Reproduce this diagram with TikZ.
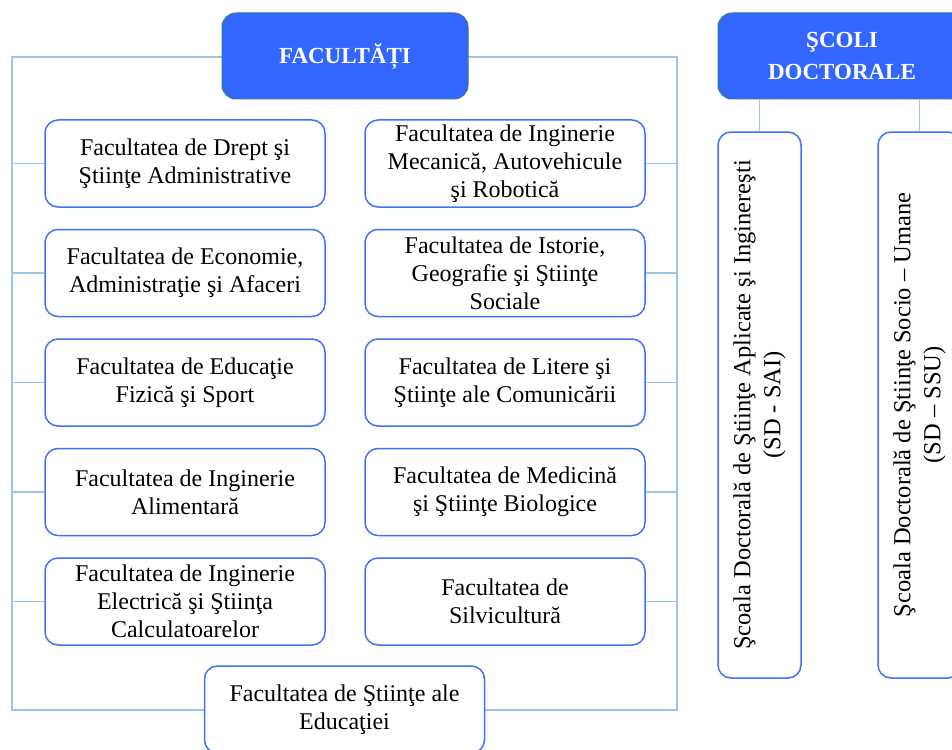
\documentclass[tikz,border=0pt]{standalone}
\usepackage{fontspec}
\setmainfont{Liberation Serif}
\usetikzlibrary{positioning}

\definecolor{headblue}{RGB}{51,102,255}
\definecolor{headedge}{RGB}{65,113,156}
\definecolor{boxedge}{RGB}{64,114,245}
\definecolor{linkblue}{RGB}{157,195,230}

\begin{document}
\begin{tikzpicture}[x=1pt,y=1pt,thin]
\tikzstyle{fac}=[draw=boxedge,line width=1.5pt,fill=white,rounded corners=13pt,minimum width=280pt,minimum height=87pt,inner sep=1pt,align=center,font=\fontsize{24}{28}\selectfont]
\tikzstyle{head}=[draw=headedge,line width=1pt,fill=headblue,rounded corners=14pt,minimum height=86pt,text=white,align=center,font=\fontsize{23}{32}\selectfont\bfseries]
\tikzstyle{link}=[draw=linkblue,line width=1.2pt]

\useasboundingbox (0,0) rectangle (952,-749);

\node[link,minimum width=665pt,minimum height=653pt,inner sep=0pt] (frame) at (344.5,-383.5) {};

\node[head,minimum width=246pt] (fac) at (345,-56) {FACULTĂȚI};
\node[head,minimum width=248pt] (scoli) at (842,-56) {ŞCOLI\\DOCTORALE};

\node[fac] (fdsa) at (185,-163.5) {Facultatea de Drept şi\\Ştiinţe Administrative};
\node[fac] (feaa) [below of=fdsa,node distance=109.5pt] {Facultatea de Economie,\\Administraţie şi Afaceri};
\node[fac] (fefs) [below of=feaa,node distance=109.5pt] {Facultatea de Educaţie\\Fizică şi Sport};
\node[fac] (fia)  [below of=fefs,node distance=109.5pt] {Facultatea de Inginerie\\Alimentară};
\node[fac] (fiesc) [below of=fia,node distance=109.5pt] {Facultatea de Inginerie\\Electrică şi Ştiinţa\\Calculatoarelor};

\node[fac] (fimar) [right of=fdsa,node distance=320pt] {Facultatea de Inginerie\\Mecanică, Autovehicule\\şi Robotică};
\node[fac] (figss) [right of=feaa,node distance=320pt] {Facultatea de Istorie,\\Geografie şi Ştiinţe\\Sociale};
\node[fac] (flsc)  [right of=fefs,node distance=320pt] {Facultatea de Litere şi\\Ştiinţe ale Comunicării};
\node[fac] (fmsb)  [right of=fia,node distance=320pt] {Facultatea de Medicină\\şi Ştiinţe Biologice};
\node[fac] (fs)    [right of=fiesc,node distance=320pt] {Facultatea de\\Silvicultură};

\node[fac] (fse) at (344.5,-709.5) {Facultatea de Ştiinţe ale\\Educaţiei};

\node[fac,rotate=90,minimum width=546pt,minimum height=83pt,font=\fontsize{24.5}{30}\selectfont] (sdsai) at (759.5,-405) {Şcoala Doctorală de Ştiinţe Aplicate şi Inginereşti\\(SD - SAI)};
\node[fac,rotate=90,minimum width=546pt,minimum height=83pt,font=\fontsize{24.5}{30}\selectfont] (sdssu) at (919.5,-405) {Şcoala Doctorală de Ştiinţe Socio – Umane\\(SD – SSU)};

% links
\foreach \n in {fdsa,feaa,fefs,fia,fiesc}
  \draw[link] (\n.west) -- (\n.west -| frame.west);
\foreach \n in {fimar,figss,flsc,fmsb,fs}
  \draw[link] (\n.east) -- (\n.east -| frame.east);
\draw[link] (sdsai.east) -- (sdsai.east |- scoli.south);
\draw[link] (sdssu.east) -- (sdssu.east |- scoli.south);
\end{tikzpicture}
\end{document}
